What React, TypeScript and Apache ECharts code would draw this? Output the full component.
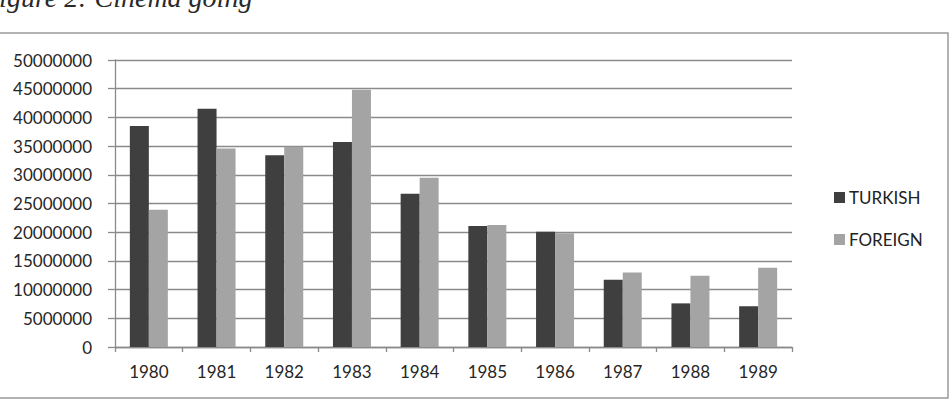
import React, { useEffect, useRef } from "react";
import * as echarts from "echarts";

const categories = ["1980", "1981", "1982", "1983", "1984", "1985", "1986", "1987", "1988", "1989"];
const turkish = [38500000, 41500000, 33400000, 35700000, 26700000, 21100000, 20100000, 11700000, 7600000, 7100000];
const foreign = [23900000, 34600000, 34900000, 44800000, 29500000, 21250000, 19800000, 13000000, 12400000, 13800000];
const seriesNames = ["TURKISH", "FOREIGN"];
const titleText = "Figure 2: Cinema going";

export default function App() {
  const ref = useRef<HTMLDivElement>(null);
  useEffect(() => {
    if (!ref.current) return;
    const chart = echarts.init(ref.current, null, { renderer: "svg" });
    const gridColor = "#8a8a8a";
    const font = "Lato, 'Open Sans', sans-serif";
    chart.setOption({
      animation: false,
      backgroundColor: "#ffffff",
      graphic: [
        {
          type: "rect",
          shape: { x: -4, y: 33, width: 952, height: 365 },
          style: { fill: "none", stroke: "#9a9a9a", lineWidth: 1.5 },
          silent: true,
        },
        {
          type: "text",
          x: -18,
          y: -17,
          style: {
            text: titleText,
            font: "italic 28px 'Liberation Serif', 'DejaVu Serif', serif",
            fill: "#2a2a2a",
            align: "left",
            verticalAlign: "top",
          },
          silent: true,
        },
      ],
      legend: {
        orient: "vertical",
        left: 829,
        top: 184,
        itemWidth: 11,
        itemHeight: 11,
        itemGap: 25,
        icon: "rect",
        data: seriesNames,
        textStyle: { fontFamily: font, fontSize: 17, color: "#222222", padding: [0, 0, 0, -1] },
      },
      grid: { left: 115, right: 160, top: 60, bottom: 58, containLabel: false },
      xAxis: {
        type: "category",
        data: categories,
        axisLine: { show: true, lineStyle: { color: gridColor, width: 1.3 } },
        axisTick: { show: true, length: 5, lineStyle: { color: gridColor, width: 1.3 } },
        axisLabel: { fontFamily: font, fontSize: 17, color: "#262626", margin: 16 },
      },
      yAxis: {
        type: "value",
        min: 0,
        max: 50000000,
        interval: 5000000,
        axisLine: { show: true, lineStyle: { color: gridColor, width: 1.3 } },
        axisTick: { show: true, length: 7, lineStyle: { color: gridColor, width: 1.3 } },
        axisLabel: { fontFamily: font, fontSize: 17, color: "#262626", margin: 23, formatter: (v: number) => String(v) },
        splitLine: { show: true, lineStyle: { color: gridColor, width: 1.3 } },
      },
      series: [
        {
          name: seriesNames[0],
          type: "bar",
          data: turkish,
          barWidth: 19,
          barGap: "0%",
          itemStyle: { color: "#3f3f3f" },
        },
        {
          name: seriesNames[1],
          type: "bar",
          data: foreign,
          barWidth: 19,
          barGap: "0%",
          itemStyle: { color: "#a4a4a4" },
        },
      ],
    });
    return () => chart.dispose();
  }, []);
  return (
    <div
      ref={ref}
      style={{ position: "absolute", left: 0, top: 0, width: 952, height: 405 }}
    />
  );
}
